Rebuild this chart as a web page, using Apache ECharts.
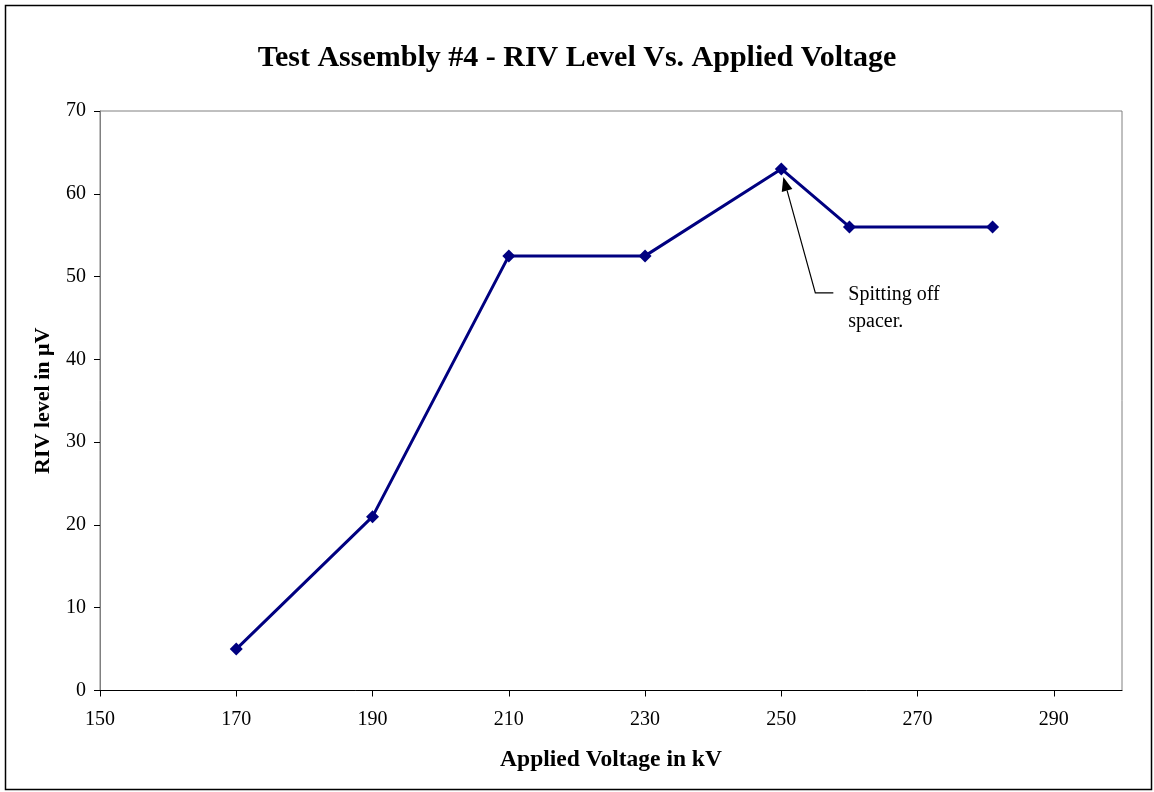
<!DOCTYPE html>
<html><head><meta charset="utf-8">
<script src="https://cdn.jsdelivr.net/npm/echarts@6/dist/echarts.min.js"></script>
<style>html,body{margin:0;padding:0;background:#fff}#c{width:1154px;height:792px}</style>
</head><body><div id="c"></div>
<script>
const voltages = [170, 190, 210, 230, 250, 260, 281];
const rivLevels = [5, 21, 52.5, 52.5, 63, 56, 56];
const xTicks = [150, 170, 190, 210, 230, 250, 270, 290];
const yTicks = [0, 10, 20, 30, 40, 50, 60, 70];
const annotationText = 'Spitting off\nspacer.';
const annotatedIndex = 4;

const F = '"Liberation Serif", "Times New Roman", serif';
const chart = echarts.init(document.getElementById('c'), null, {renderer: 'canvas'});
chart.setOption({
  animation: false,
  backgroundColor: '#fff',
  title: {
    text: 'Test Assembly #4 - RIV Level Vs. Applied Voltage',
    left: 'center', top: 38,
    textStyle: {fontFamily: F, fontSize: 30, fontWeight: 'bold', color: '#000'}
  },
  grid: {left: 100, right: 32, top: 111, bottom: 101.5, show: true, borderColor: '#808080', borderWidth: 1, backgroundColor: '#fff'},
  xAxis: {
    type: 'value', min: 150, max: 300, interval: 20,
    name: 'Applied Voltage in kV', nameLocation: 'middle', nameGap: 57,
    nameTextStyle: {fontFamily: F, fontSize: 23.5, fontWeight: 'bold', color: '#000'},
    axisLine: {show: true, onZero: false, lineStyle: {color: '#000', width: 1}},
    axisTick: {show: true, length: 6, inside: false, customValues: xTicks, lineStyle: {color: '#000'}},
    axisLabel: {customValues: xTicks, fontFamily: F, fontSize: 20, color: '#000', margin: 19},
    splitLine: {show: false}
  },
  yAxis: {
    type: 'value', min: 0, max: 70, interval: 10,
    name: 'RIV level in μV', nameLocation: 'middle', nameGap: 46,
    nameTextStyle: {fontFamily: F, fontSize: 22, fontWeight: 'bold', color: '#000'},
    axisLine: {show: true, lineStyle: {color: '#808080', width: 1}},
    axisTick: {show: true, length: 6, inside: false, customValues: yTicks, lineStyle: {color: '#000'}},
    axisLabel: {customValues: yTicks, fontFamily: F, fontSize: 20, color: '#000', margin: 14},
    splitLine: {show: false}
  },
  series: [{
    type: 'line',
    data: voltages.map((v, i) => [v, rivLevels[i]]),
    symbol: 'diamond', symbolSize: 13,
    lineStyle: {color: '#000080', width: 3},
    itemStyle: {color: '#000080'}
  }]
});

const p = chart.convertToPixel({gridIndex: 0}, [voltages[annotatedIndex], rivLevels[annotatedIndex]]);
const tip = [p[0] + 2, p[1] + 8];
const elbow = [p[0] + 34, p[1] + 124];
const end = [elbow[0] + 18, elbow[1]];
const ang = Math.atan2(tip[1] - elbow[1], tip[0] - elbow[0]);
const L = 14, W = 5.5;
const bx = tip[0] - L * Math.cos(ang), by = tip[1] - L * Math.sin(ang);
const nx = -Math.sin(ang), ny = Math.cos(ang);
chart.setOption({
  graphic: [
    {type: 'rect', shape: {x: 5.5, y: 5.5, width: 1146, height: 784}, style: {fill: null, stroke: '#000', lineWidth: 1.5}, silent: true, z: -10},
    {type: 'polyline', shape: {points: [end, elbow, [bx, by]]}, style: {stroke: '#000', lineWidth: 1.2, fill: null}, z: 100},
    {type: 'polygon', shape: {points: [tip, [bx + nx * W, by + ny * W], [bx - nx * W, by - ny * W]]}, style: {fill: '#000'}, z: 100},
    {type: 'text', x: end[0] + 15, y: elbow[1] - 12, style: {text: annotationText, fontFamily: F, fontSize: 20, fill: '#000', lineHeight: 27}, z: 100}
  ]
});
</script>
</body></html>
